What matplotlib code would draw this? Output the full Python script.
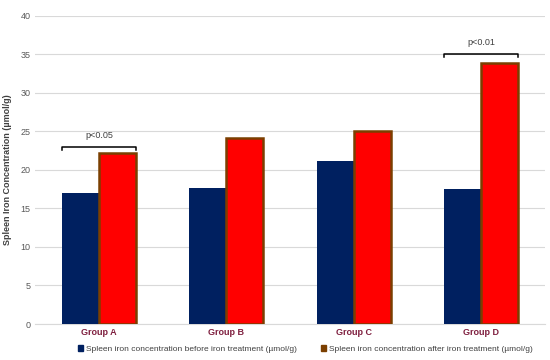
import matplotlib.pyplot as plt
from matplotlib.patches import Patch
import numpy as np

plt.rcParams['font.family'] = ['Liberation Sans', 'DejaVu Sans']

groups = ['Group A', 'Group B', 'Group C', 'Group D']
before = [17.0, 17.7, 21.2, 17.5]
after = [22.2, 24.2, 25.0, 33.9]
sig_groups = [0, 3]
sig_labels = ['p<0.05', 'p<0.01']
sig_levels = [23.0, 35.1]
legend_labels = ['Spleen iron concentration before iron treatment (µmol/g)',
                 'Spleen iron concentration after iron treatment (µmol/g)']

x = np.arange(len(groups))
width = 0.29

fig = plt.figure(figsize=(5.5, 3.6), dpi=100)
ax = fig.add_axes([0.064, 0.1, 0.927, 0.856])

ax.bar(x - width/2, before, width, color='#002060', zorder=3)
ax.bar(x + width/2, after, width, color='#ff0000', edgecolor='#7b3f00', linewidth=1.8, zorder=3)

ax.set_xlim(-0.5, len(groups) - 0.5)
ax.set_ylim(0, 40)
ax.set_yticks(np.arange(0, 41, 5))
ax.grid(axis='y', color='#d9d9d9', linewidth=0.8, zorder=0)
ax.set_axisbelow(True)
for s in ['top', 'right', 'left']:
    ax.spines[s].set_visible(False)
ax.spines['bottom'].set_color('#d9d9d9')
ax.tick_params(axis='both', length=0, labelsize=6.5, colors='#595959')
ax.set_xticks(x)
ax.set_xticklabels(groups, fontsize=6.5, fontweight='bold', color='#7f1f3f')
ax.tick_params(axis='x', pad=3)
ax.set_ylabel('Spleen Iron Concentration (µmol/g)', fontsize=6.5, fontweight='bold',
              color='#404040', labelpad=6)

# significance brackets
for g, lab, lev in zip(sig_groups, sig_labels, sig_levels):
    x0 = g - width
    x1 = g + width
    ax.plot([x0, x0, x1, x1], [lev - 0.4, lev, lev, lev - 0.4], color='black', lw=1.1, zorder=4)
    ax.text(g, lev + 0.9, lab, ha='center', va='bottom', fontsize=6.5, color='#404040')

handles = [Patch(color='#002060'), Patch(color='#7b3f00')]
ax.legend(handles, legend_labels, loc='upper center', bbox_to_anchor=(0.53, -0.045), ncol=2,
          frameon=False, fontsize=6, handlelength=0.6, handleheight=0.6, handletextpad=0.3,
          columnspacing=3.0, labelcolor='#404040')

plt.savefig('out.png', dpi=100)
